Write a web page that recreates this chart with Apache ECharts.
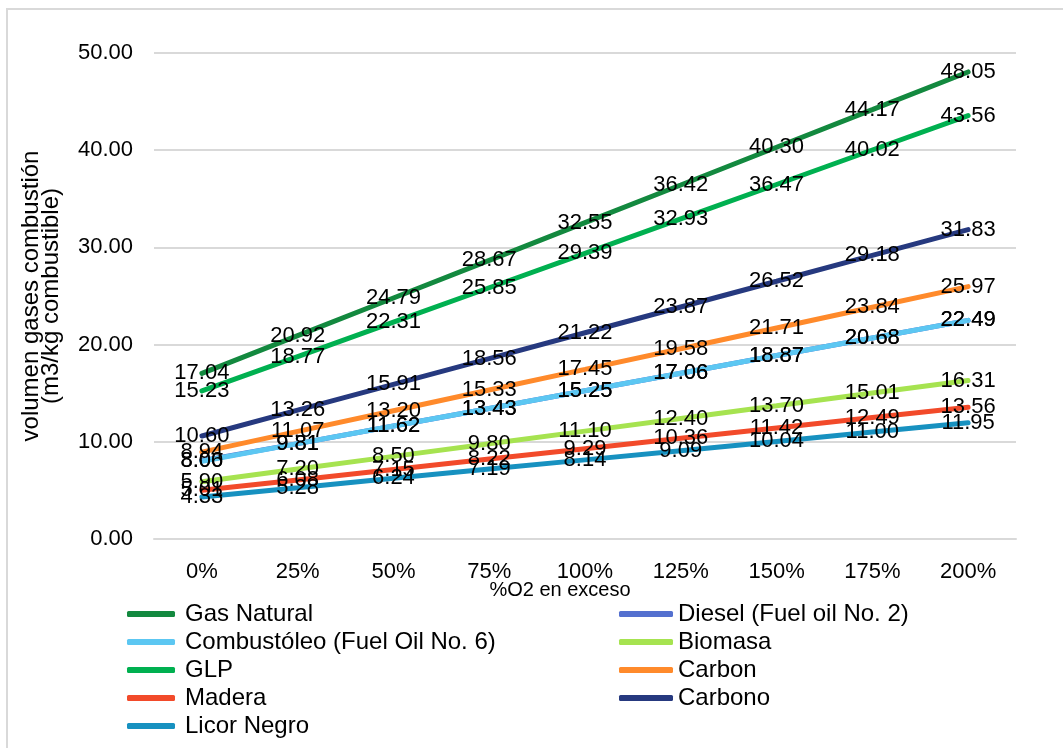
<!DOCTYPE html>
<html>
<head>
<meta charset="utf-8">
<script src="https://cdn.jsdelivr.net/npm/echarts@6/dist/echarts.min.js"></script>
<style>html,body{margin:0;padding:0;background:#fff}#c{width:1063px;height:748px}</style>
</head>
<body>
<div id="c"></div>
<script>
const categories = ['0%', '25%', '50%', '75%', '100%', '125%', '150%', '175%', '200%'];
const gasNatural  = [17.04, 20.92, 24.79, 28.67, 32.55, 36.42, 40.30, 44.17, 48.05];
const diesel      = [8.06, 9.81, 11.62, 13.43, 15.25, 17.06, 18.87, 20.68, 22.49];
const combustoleo = [8.00, 9.81, 11.62, 13.43, 15.25, 17.06, 18.87, 20.68, 22.49];
const biomasa     = [5.90, 7.20, 8.50, 9.80, 11.10, 12.40, 13.70, 15.01, 16.31];
const glp         = [15.23, 18.77, 22.31, 25.85, 29.39, 32.93, 36.47, 40.02, 43.56];
const carbon      = [8.94, 11.07, 13.20, 15.33, 17.45, 19.58, 21.71, 23.84, 25.97];
const madera      = [5.01, 6.08, 7.15, 8.22, 9.29, 10.36, 11.42, 12.49, 13.56];
const carbono     = [10.60, 13.26, 15.91, 18.56, 21.22, 23.87, 26.52, 29.18, 31.83];
const licorNegro  = [4.33, 5.28, 6.24, 7.19, 8.14, 9.09, 10.04, 11.00, 11.95];
const yTicks = [0, 10, 20, 30, 40, 50];

const FONT = 'Liberation Sans';
const seriesDefs = [
  ['Gas Natural', gasNatural, '#13893f'],
  ['Diesel (Fuel oil No. 2)', diesel, '#5470cf'],
  ['Combustóleo (Fuel Oil No. 6)', combustoleo, '#5cc7f2'],
  ['Biomasa', biomasa, '#a6e350'],
  ['GLP', glp, '#00b050'],
  ['Carbon', carbon, '#ff8a2b'],
  ['Madera', madera, '#f24a2a'],
  ['Carbono', carbono, '#26397f'],
  ['Licor Negro', licorNegro, '#1791c0']
];

const series = seriesDefs.map(([name, data, color]) => ({
  name, type: 'line', data,
  symbol: 'circle', symbolSize: 1,
  itemStyle: { color },
  lineStyle: { color, width: 5, cap: 'round' },
  label: {
    show: true, position: 'inside',
    formatter: p => p.value.toFixed(2),
    fontFamily: FONT, fontSize: 22, color: '#000'
  },
  emphasis: { disabled: true },
  animation: false
}));

const chart = echarts.init(document.getElementById('c'));
chart.setOption({
  backgroundColor: '#fff',
  animation: false,
  graphic: [{
    type: 'rect', shape: { x: 7, y: 9, width: 1200, height: 900 },
    style: { fill: 'none', stroke: '#d9d9d9', lineWidth: 2 }, silent: true
  }],
  grid: { left: 154, right: 47, top: 53, bottom: 209 },
  legend: [
    {
      orient: 'vertical', left: 127, top: 602, itemGap: 4, padding: 0,
      itemWidth: 48, itemHeight: 6, icon: 'roundRect',
      textStyle: { fontFamily: FONT, fontSize: 24, color: '#000', lineHeight: 22, padding: [0, 0, 0, 5] },
      data: ['Gas Natural', 'Combustóleo (Fuel Oil No. 6)', 'GLP', 'Madera', 'Licor Negro']
    },
    {
      orient: 'vertical', left: 619, top: 602, itemGap: 4, padding: 0,
      itemWidth: 54, itemHeight: 6, icon: 'roundRect',
      textStyle: { fontFamily: FONT, fontSize: 24, color: '#000', lineHeight: 22 },
      data: ['Diesel (Fuel oil No. 2)', 'Biomasa', 'Carbon', 'Carbono']
    }
  ],
  xAxis: {
    type: 'category', data: categories, boundaryGap: true,
    axisLine: { show: true, lineStyle: { color: '#d9d9d9', width: 2 } },
    axisTick: { show: false },
    axisLabel: { fontFamily: FONT, fontSize: 22, color: '#000', margin: 22 },
    name: '%O2 en exceso', nameLocation: 'middle', nameGap: 41, nameMoveOverlap: false,
    nameTextStyle: { fontFamily: FONT, fontSize: 20, color: '#000', padding: [0, 50, 0, 0] }
  },
  yAxis: {
    type: 'value', min: yTicks[0], max: yTicks[yTicks.length - 1], interval: 10,
    axisLine: { show: false }, axisTick: { show: false },
    splitLine: { lineStyle: { color: '#d9d9d9', width: 2 } },
    axisLabel: { fontFamily: FONT, fontSize: 22, color: '#000', margin: 21, formatter: v => v.toFixed(2) },
    name: 'volumen gases combustión\n(m3/kg combustible)', nameLocation: 'middle', nameGap: 93,
    nameRotate: 90, nameMoveOverlap: false,
    nameTextStyle: { fontFamily: FONT, fontSize: 24, color: '#000', lineHeight: 20 }
  },
  series
});
</script>
</body>
</html>
